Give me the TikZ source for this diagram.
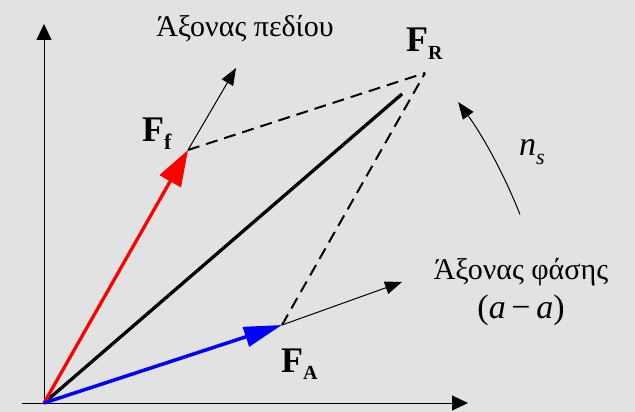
\documentclass[tikz,border=0pt]{standalone}
\usepackage{fontspec}
\setmainfont{Liberation Serif}
\usetikzlibrary{arrows.meta}
\definecolor{bgc}{RGB}{226,226,226}
\definecolor{vred}{RGB}{255,0,0}
\definecolor{vblue}{RGB}{0,0,255}
\begin{document}
\begin{tikzpicture}[x=1pt,y=-1pt,
  axis/.style={line width=1pt,-{Triangle[length=16pt,width=15pt]}},
  thinarrow/.style={line width=1pt,-{Triangle[length=17pt,width=13pt]}},
  dashline/.style={line width=2pt,dash pattern=on 12pt off 7pt},
  redvec/.style={line width=3.3pt,vred,-{Triangle[length=36pt,width=24pt]}},
  bluevec/.style={line width=3.5pt,vblue,-{Triangle[length=38pt,width=20pt]}},
  resvec/.style={line width=3.3pt,black},
  lbl/.style={inner sep=0pt,anchor=base,font=\fontsize{30}{34}\selectfont},
  vlbl/.style={inner sep=0pt,anchor=base west,font=\fontsize{36}{40}\selectfont\bfseries},
  mlbl/.style={inner sep=0pt,anchor=base,font=\fontsize{34}{38}\selectfont}]
\fill[bgc] (0,0) rectangle (635,412);
\useasboundingbox (0,0) rectangle (635,412);
% points
\coordinate (O) at (44,403);
\coordinate (Ytop) at (44,24);
\coordinate (Xl) at (22,403);
\coordinate (Xr) at (468,403);
\coordinate (Ff) at (188,150);
\coordinate (FieldTip) at (236,68);
\coordinate (FRp) at (425,73);
\coordinate (FRend) at (402,94);
\coordinate (FA) at (282,325);
\coordinate (PhaseTip) at (402,282);
% axes
\draw[axis] (O) -- (Ytop);
\draw[axis] (Xl) -- (Xr);
% dashed
\draw[dashline] (Ff) -- (FRp);
\draw[dashline] (FA) -- (FRp);
% field and phase axes
\draw[thinarrow] (Ff) -- (FieldTip);
\draw[thinarrow] (FA) -- (PhaseTip);
% vectors
\draw[resvec] (O) -- (FRend);
\draw[redvec] (O) -- (Ff);
\draw[bluevec] (O) -- (FA);
% rotation arc
\draw[thinarrow] (O) ++(-21.6:512) coordinate (ArcS) arc[start angle=-21.6,end angle=-36,radius=512] coordinate (ArcE);
% labels
\node[lbl] (fieldlbl) at (245,37) {Άξονας πεδίου};
\node[lbl] (phaselbl) at (521,279) {Άξονας φάσης};
\node[mlbl] (aalbl) at (521,318) {(\textit{a}\,−\,\textit{a})};
\node[vlbl] (FRlbl) at (406,52) {F\raisebox{-8pt}{\fontsize{20}{22}\selectfont R}};
\node[vlbl] (Fflbl) at (142,142) {F\raisebox{-8pt}{\fontsize{22}{24}\selectfont f}};
\node[vlbl] (FAlbl) at (281,372) {F\raisebox{-7pt}{\fontsize{20}{22}\selectfont A}};
\node[mlbl,anchor=base west] (nslbl) at (519,155) {\textit{n}\raisebox{-9pt}{\fontsize{22}{24}\selectfont\textit{s}}};
\end{tikzpicture}
\end{document}
